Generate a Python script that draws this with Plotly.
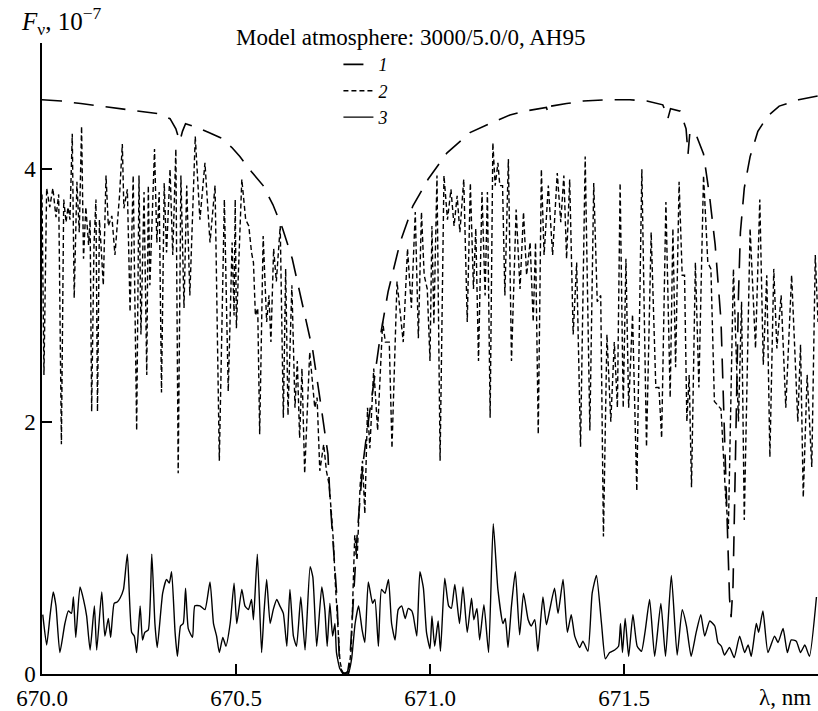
import plotly.graph_objects as go

# ---- data (wavelength in nm, flux in units of 1e-7) ----
wl1 = [670.000, 670.05, 670.10, 670.15, 670.20, 670.25, 670.30, 670.33, 670.345, 670.355,
       670.362, 670.37, 670.40, 670.43, 670.46, 670.49, 670.51, 670.54, 670.57, 670.595,
       670.62, 670.645, 670.672, 670.698, 670.716, 670.737, 670.742, 670.75, 670.760, 670.766,
       670.772, 670.780, 670.788, 670.794, 670.802, 670.812, 670.820, 670.827, 670.838, 670.850,
       670.871, 670.892, 670.923, 670.956, 670.995, 671.044, 671.103, 671.146, 671.206, 671.245,
       671.300, 671.305, 671.312, 671.352, 671.395, 671.459, 671.515, 671.559, 671.600, 671.608,
       671.613, 671.620, 671.645, 671.660, 671.665, 671.670, 671.685, 671.705, 671.720, 671.735,
       671.750, 671.758, 671.765, 671.772, 671.776, 671.781, 671.786, 671.790, 671.795, 671.800,
       671.810, 671.825, 671.845, 671.870, 671.900, 671.950, 672.000]
flux1 = [4.55, 4.54, 4.52, 4.50, 4.48, 4.46, 4.44, 4.40, 4.32, 4.22,
         4.30, 4.36, 4.33, 4.29, 4.25, 4.17, 4.10, 3.98, 3.87, 3.72,
         3.53, 3.29, 2.92, 2.56, 2.19, 1.74, 1.40, 1.05, 0.61, 0.14,
         0.02, 0.00, 0.02, 0.14, 0.61, 1.09, 1.40, 1.66, 1.93, 2.19,
         2.66, 3.03, 3.42, 3.71, 3.92, 4.13, 4.29, 4.35, 4.43, 4.46,
         4.49, 4.44, 4.50, 4.52, 4.54, 4.55, 4.55, 4.54, 4.51, 4.45,
         4.40, 4.48, 4.46, 4.32, 4.12, 4.30, 4.28, 4.12, 3.80, 3.40,
         2.80, 2.00, 1.20, 0.60, 0.45, 0.70, 1.50, 2.30, 3.00, 3.50,
         3.85, 4.10, 4.30, 4.42, 4.50, 4.55, 4.58]

wl2 = [670.000, 670.005, 670.012, 670.020, 670.028, 670.036, 670.043, 670.050, 670.056, 670.062,
       670.067, 670.072, 670.078, 670.083, 670.090, 670.096, 670.102, 670.107, 670.113, 670.120,
       670.124, 670.128, 670.134, 670.139, 670.143, 670.148, 670.152, 670.158, 670.165, 670.171,
       670.180, 670.188, 670.200, 670.207, 670.211, 670.220, 670.227, 670.235, 670.244, 670.250,
       670.255, 670.263, 670.270, 670.274, 670.278, 670.290, 670.296, 670.302, 670.308, 670.315,
       670.321, 670.330, 670.337, 670.345, 670.351, 670.358, 670.366, 670.373, 670.381, 670.395,
       670.407, 670.420, 670.433, 670.446, 670.457, 670.470, 670.480, 670.490, 670.495, 670.498,
       670.501, 670.515, 670.525, 670.533, 670.540, 670.545, 670.550, 670.556, 670.561, 670.570,
       670.579, 670.585, 670.590, 670.597, 670.604, 670.614, 670.622, 670.628, 670.634, 670.644,
       670.652, 670.658, 670.664, 670.670, 670.677, 670.690, 670.703, 670.709, 670.716, 670.726,
       670.733, 670.740, 670.746, 670.751, 670.756, 670.762, 670.768, 670.775, 670.790, 670.797,
       670.802, 670.806, 670.812, 670.820, 670.826, 670.832, 670.839, 670.845, 670.855, 670.865,
       670.878, 670.885, 670.895, 670.902, 670.915, 670.931, 670.942, 670.952, 670.962, 670.970,
       670.978, 670.985, 670.993, 671.000, 671.005, 671.010, 671.018, 671.026, 671.036, 671.045,
       671.054, 671.062, 671.070, 671.077, 671.087, 671.096, 671.104, 671.112, 671.118, 671.125,
       671.134, 671.142, 671.148, 671.155, 671.162, 671.168, 671.175, 671.180, 671.187, 671.193,
       671.202, 671.210, 671.222, 671.232, 671.241, 671.249, 671.258, 671.266, 671.272, 671.279,
       671.287, 671.294, 671.305, 671.316, 671.328, 671.337, 671.345, 671.352, 671.360, 671.369,
       671.378, 671.388, 671.400, 671.412, 671.422, 671.431, 671.440, 671.447, 671.456, 671.466,
       671.475, 671.483, 671.490, 671.498, 671.505, 671.512, 671.522, 671.533, 671.546, 671.558,
       671.570, 671.582, 671.590, 671.597, 671.608, 671.619, 671.626, 671.633, 671.642, 671.650,
       671.656, 671.662, 671.668, 671.674, 671.684, 671.693, 671.705, 671.716, 671.724, 671.733,
       671.750, 671.762, 671.769, 671.782, 671.795, 671.803, 671.810, 671.825, 671.839, 671.850,
       671.859, 671.868, 671.876, 671.886, 671.894, 671.905, 671.917, 671.932, 671.948, 671.955,
       671.962, 671.972, 671.984, 671.993, 672.000]
flux2 = [3.80, 2.37, 3.85, 3.70, 3.85, 3.62, 3.80, 1.82, 3.76, 3.58,
         3.70, 3.60, 4.28, 2.98, 3.90, 3.50, 4.34, 3.29, 3.70, 3.40,
         3.60, 2.08, 3.40, 3.76, 2.08, 3.60, 3.40, 3.08, 3.95, 3.55,
         3.63, 3.32, 3.80, 4.20, 3.69, 3.84, 2.87, 3.95, 1.93, 3.95,
         2.69, 3.82, 2.37, 3.87, 3.08, 4.16, 3.42, 3.82, 2.23, 3.89,
         3.34, 4.00, 3.32, 4.16, 1.59, 3.95, 2.90, 3.87, 3.00, 4.26,
         3.60, 4.05, 3.42, 3.87, 1.69, 3.76, 2.24, 3.42, 2.84, 3.76,
         2.74, 3.92, 3.60, 3.55, 3.34, 3.26, 2.84, 2.90, 1.90, 3.47,
         2.79, 3.00, 2.63, 3.37, 3.11, 3.55, 2.03, 3.21, 2.05, 3.08,
         2.11, 2.48, 1.87, 2.42, 1.59, 2.55, 2.11, 2.19, 1.61, 1.82,
         1.61, 1.50, 1.27, 1.05, 0.72, 0.40, 0.10, 0.00, 0.00, 0.20,
         0.70, 1.10, 0.90, 1.50, 1.69, 1.27, 2.11, 1.79, 2.42, 1.93,
         2.79, 2.63, 2.63, 1.79, 3.11, 2.63, 3.37, 2.90, 3.66, 2.66,
         3.66, 3.16, 3.05, 2.48, 3.55, 2.77, 3.95, 1.69, 3.95, 3.60,
         3.84, 3.55, 3.79, 3.50, 3.92, 2.79, 3.89, 3.05, 3.53, 2.48,
         3.82, 3.00, 3.82, 2.03, 4.21, 3.87, 4.05, 3.87, 3.87, 3.00,
         4.08, 2.48, 3.68, 3.05, 3.66, 3.16, 3.42, 2.79, 3.42, 1.90,
         4.00, 3.32, 3.87, 3.32, 3.97, 3.58, 3.95, 3.29, 3.92, 2.69,
         3.26, 1.80, 4.10, 1.93, 3.89, 2.95, 3.00, 1.09, 2.69, 2.00,
         2.63, 2.11, 3.89, 2.11, 3.29, 2.11, 2.85, 1.45, 4.00, 1.80,
         3.50, 2.27, 2.27, 1.87, 3.74, 2.19, 3.53, 2.43, 3.90, 3.16,
         3.16, 2.00, 2.37, 1.48, 3.26, 2.27, 3.95, 3.26, 3.21, 2.16,
         2.10, 1.40, 1.15, 3.21, 2.00, 2.95, 1.22, 3.53, 2.58, 3.76,
         2.45, 3.16, 1.72, 3.21, 2.58, 3.00, 2.11, 3.16, 2.00, 2.61,
         1.40, 2.37, 1.64, 3.32, 2.79]

wl3 = [670.002, 670.012, 670.021, 670.029, 670.036, 670.046, 670.059, 670.068, 670.076, 670.081,
       670.087, 670.098, 670.107, 670.115, 670.124, 670.135, 670.141, 670.154, 670.162, 670.171,
       670.177, 670.186, 670.194, 670.201, 670.210, 670.220, 670.231, 670.238, 670.244, 670.253,
       670.259, 670.265, 670.274, 670.283, 670.291, 670.297, 670.311, 670.321, 670.328, 670.334,
       670.343, 670.349, 670.357, 670.364, 670.370, 670.377, 670.388, 670.394, 670.407, 670.420,
       670.433, 670.442, 670.450, 670.457, 670.466, 670.474, 670.485, 670.495, 670.502, 670.515,
       670.523, 670.532, 670.540, 670.545, 670.555, 670.566, 670.572, 670.579, 670.588, 670.596,
       670.605, 670.613, 670.622, 670.631, 670.639, 670.648, 670.656, 670.667, 670.678, 670.691,
       670.698, 670.708, 670.721, 670.729, 670.735, 670.742, 670.749, 670.755, 670.759, 670.768,
       670.777, 670.790, 670.798, 670.807, 670.816, 670.825, 670.832, 670.841, 670.852, 670.858,
       670.867, 670.875, 670.884, 670.893, 670.901, 670.910, 670.918, 670.927, 670.936, 670.944,
       670.953, 670.957, 670.966, 670.974, 670.983, 670.991, 671.000, 671.005, 671.012, 671.021,
       671.027, 671.038, 671.048, 671.055, 671.064, 671.076, 671.085, 671.096, 671.107, 671.113,
       671.121, 671.128, 671.139, 671.151, 671.163, 671.175, 671.188, 671.194, 671.201, 671.210,
       671.220, 671.231, 671.241, 671.253, 671.261, 671.270, 671.278, 671.291, 671.300, 671.308,
       671.321, 671.330, 671.343, 671.354, 671.364, 671.373, 671.386, 671.394, 671.407, 671.418,
       671.429, 671.442, 671.452, 671.463, 671.476, 671.486, 671.491, 671.496, 671.503, 671.512,
       671.523, 671.534, 671.545, 671.555, 671.566, 671.579, 671.595, 671.607, 671.622, 671.637,
       671.650, 671.661, 671.673, 671.686, 671.698, 671.708, 671.721, 671.734, 671.742, 671.751,
       671.759, 671.772, 671.784, 671.798, 671.811, 671.820, 671.828, 671.841, 671.847, 671.858,
       671.871, 671.888, 671.897, 671.910, 671.921, 671.931, 671.944, 671.955, 671.966, 671.978,
       671.996]
flux3 = [0.47, 0.23, 0.47, 0.65, 0.54, 0.17, 0.40, 0.50, 0.48, 0.61,
         0.29, 0.69, 0.59, 0.46, 0.19, 0.54, 0.19, 0.65, 0.30, 0.44,
         0.29, 0.56, 0.57, 0.60, 0.67, 0.95, 0.33, 0.30, 0.17, 0.54,
         0.27, 0.33, 0.35, 0.95, 0.40, 0.21, 0.64, 0.75, 0.72, 0.81,
         0.33, 0.14, 0.38, 0.40, 0.68, 0.36, 0.29, 0.54, 0.54, 0.51,
         0.73, 0.40, 0.30, 0.17, 0.29, 0.22, 0.40, 0.72, 0.40, 0.67,
         0.54, 0.51, 0.59, 0.43, 0.95, 0.17, 0.48, 0.75, 0.40, 0.51,
         0.59, 0.54, 0.48, 0.22, 0.67, 0.30, 0.22, 0.61, 0.19, 0.85,
         0.77, 0.22, 0.69, 0.51, 0.22, 0.56, 0.30, 0.40, 0.17, 0.04,
         0.01, 0.01, 0.12, 0.40, 0.54, 0.35, 0.25, 0.73, 0.56, 0.59,
         0.22, 0.67, 0.64, 0.75, 0.40, 0.27, 0.51, 0.54, 0.44, 0.52,
         0.50, 0.46, 0.30, 0.81, 0.68, 0.33, 0.20, 0.46, 0.22, 0.42,
         0.18, 0.76, 0.54, 0.52, 0.71, 0.40, 0.69, 0.33, 0.60, 0.43,
         0.52, 0.27, 0.55, 0.17, 1.19, 0.67, 0.40, 0.44, 0.21, 0.54,
         0.81, 0.31, 0.64, 0.43, 0.38, 0.43, 0.18, 0.61, 0.39, 0.50,
         0.68, 0.48, 0.75, 0.33, 0.47, 0.30, 0.21, 0.26, 0.18, 0.64,
         0.78, 0.40, 0.12, 0.17, 0.19, 0.22, 0.40, 0.17, 0.44, 0.14,
         0.47, 0.22, 0.18, 0.35, 0.59, 0.14, 0.56, 0.14, 0.78, 0.15,
         0.51, 0.38, 0.14, 0.33, 0.47, 0.30, 0.42, 0.38, 0.25, 0.22,
         0.15, 0.21, 0.13, 0.30, 0.17, 0.23, 0.14, 0.40, 0.33, 0.50,
         0.17, 0.30, 0.25, 0.36, 0.17, 0.27, 0.26, 0.17, 0.23, 0.14,
         0.61]

x_tickvals = [670.0, 670.5, 671.0, 671.5]
x_ticktext = ["670.0", "670.5", "671.0", "671.5"]
y_tickvals = [0, 2, 4]
y_ticktext = ["0", "2", "4"]

FONT = "Liberation Serif, Times New Roman, serif"

fig = go.Figure()
fig.add_trace(go.Scatter(x=wl1, y=flux1, mode="lines", name="<i>1</i>",
                         line=dict(color="black", width=1.6, dash="20px,12px")))
fig.add_trace(go.Scatter(x=wl2, y=flux2, mode="lines", name="<i>2</i>",
                         line=dict(color="black", width=1.4, dash="5px,3px")))
fig.add_trace(go.Scatter(x=wl3, y=flux3, mode="lines", name="<i>3</i>",
                         line=dict(color="black", width=1.4, shape="spline", smoothing=0.5)))

fig.update_layout(
    width=818, height=711,
    margin=dict(l=42, r=0, t=43, b=33),
    paper_bgcolor="white", plot_bgcolor="white",
    font=dict(family=FONT, size=22, color="black"),
    showlegend=True,
    legend=dict(x=0.382, y=0.995, xanchor="left", yanchor="top",
                bgcolor="rgba(0,0,0,0)", font=dict(family=FONT, size=18),
                tracegroupgap=0, itemwidth=30),
    xaxis=dict(range=[670, 672], showgrid=False, zeroline=False,
               showline=True, linecolor="black", linewidth=1.5,
               ticks="inside", ticklen=10, tickwidth=1.5, tickcolor="black",
               tickvals=x_tickvals, ticktext=x_ticktext, ticklabelstandoff=3,
               tickfont=dict(family=FONT, size=23)),
    yaxis=dict(range=[0, 5], showgrid=False, zeroline=False,
               showline=True, linecolor="black", linewidth=1.5,
               ticks="inside", ticklen=10, tickwidth=1.5, tickcolor="black",
               tickvals=y_tickvals, ticktext=y_ticktext,
               tickfont=dict(family=FONT, size=23)),
)

fig.add_annotation(text="Model atmosphere: 3000/5.0/0, AH95",
                   xref="paper", yref="paper", x=0.475, y=1.008,
                   xanchor="center", yanchor="middle", showarrow=False,
                   font=dict(family=FONT, size=23))
fig.add_annotation(text="<i>F</i><sub>ν</sub>, 10<sup>−7</sup>",
                   xref="paper", yref="paper", x=-0.029, y=1.035,
                   xanchor="left", yanchor="middle", showarrow=False,
                   font=dict(family=FONT, size=25))
fig.add_annotation(text="λ, nm", xref="paper", yref="paper", x=0.994, y=-0.014,
                   xanchor="right", yanchor="top", showarrow=False,
                   font=dict(family=FONT, size=23))

fig.write_html("out.html")
